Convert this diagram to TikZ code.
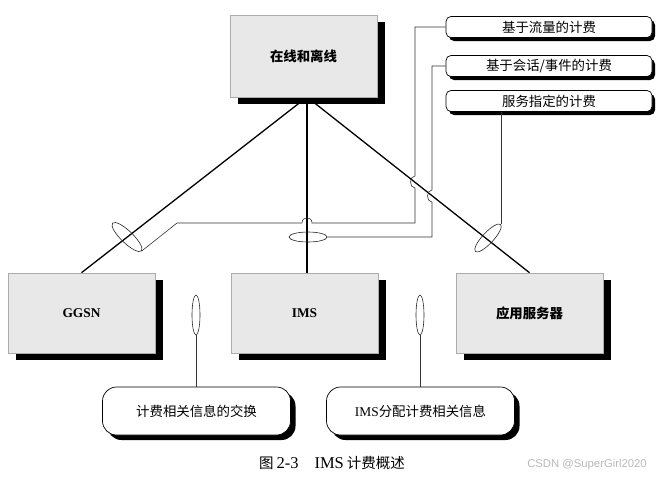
\documentclass[tikz,border=0pt]{standalone}
\usepackage{fontspec}
\setmainfont{Liberation Serif}
\newfontfamily\cjk{Noto Sans CJK SC}
\newfontfamily\wmfont{Liberation Sans}
\usetikzlibrary{shapes.geometric,shadows,backgrounds}
\begin{document}
\begin{tikzpicture}[x=1pt,y=-1pt]
\tikzset{
 unitbox/.style={draw=gray!65, fill=gray!18, line width=0.6pt, minimum width=147pt, minimum height=80pt, inner sep=0pt,
   font=\fontsize{13.4}{16}\selectfont\bfseries,
   drop shadow={shadow xshift=8pt, shadow yshift=-7pt, fill=black, opacity=1}},
 chargebox/.style={draw=black, fill=white, line width=0.7pt, rounded corners=5pt, minimum width=206pt, minimum height=21pt, inner sep=0pt,
   font=\cjk\fontsize{13.4}{16}\selectfont,
   drop shadow={shadow xshift=3pt, shadow yshift=-3.5pt, fill=black, opacity=1}},
 infobox/.style={draw=black, fill=white, line width=0.7pt, rounded corners=14pt, minimum width=188pt, minimum height=48pt, inner sep=0pt,
   font=\fontsize{13.4}{16}\selectfont,
   drop shadow={shadow xshift=5pt, shadow yshift=-5pt, fill=black, opacity=1}},
 trunk/.style={line width=1.3pt, black},
 link/.style={line width=0.6pt, black!80},
 tag/.style={ellipse, draw=black!85, line width=0.6pt, inner sep=0pt},
}
\useasboundingbox (0,0) rectangle (662,485);

% unit boxes
\node[unitbox, minimum height=82pt] (top) at (303.5,56) {\cjk 在线和离线};
\node[unitbox] (ggsn) at (81.5,313) {GGSN};
\node[unitbox] (ims) at (304.5,313) {IMS};
\node[unitbox] (app) at (529.5,313) {\cjk 应用服务器};
\coordinate (hub) at (307,97);

\begin{pgfonlayer}{background}
\draw[trunk] (hub) -- (ggsn.north);
\draw[trunk] (hub) -- (hub |- ims.north);
\draw[trunk] (hub) -- (app.north);
\end{pgfonlayer}

% charging type boxes
\node[chargebox] (b1) at (549,27) {基于流量的计费};
\node[chargebox] (b2) at (549,66) {基于会话/事件的计费};
\node[chargebox] (b3) at (549,101) {服务指定的计费};

% info boxes
\node[infobox] (c1) at (196.5,411) {\cjk 计费相关信息的交换};
\node[infobox] (c2) at (420.5,411) {IMS{\cjk 分配计费相关信息}};

% tags on trunks
\node[tag, minimum width=40pt, minimum height=12pt, rotate=-44] (e1) at (127,237) {};
\node[tag, minimum width=38pt, minimum height=10pt] (e2) at (308,237) {};
\node[tag, minimum width=37pt, minimum height=11pt, rotate=47] (e3) at (488,238) {};
\node[tag, minimum width=8pt, minimum height=40pt] (e4) at (196,315) {};
\node[tag, minimum width=8pt, minimum height=40pt] (e5) at (420,315) {};

% links
\draw[link] (e1.east) -- (177,223) -- (302,223)
  .. controls (302,216) and (312,216) .. (312,223) -- (415,223) -- (415,188)
  .. controls (409,188) and (409,176) .. (415,176) |- (b1.west);
\draw[link] (e2.east) -- (432,237) -- (432,202)
  .. controls (426,202) and (426,190) .. (432,190) |- (b2.west);
\draw[link] (e3.east) -- (e3.east |- b3.south);
\draw[link] (e4.south) -- (e4.south |- c1.north);
\draw[link] (e5.south) -- (e5.south |- c2.north);

% caption and watermark
\node (cap) at (332,463) {\fontsize{16.5}{18}\selectfont{\cjk\fontsize{14.5}{18}\selectfont 图}\hspace{3pt}2-3\hspace{16pt}IMS\hspace{3pt}{\cjk\fontsize{14.5}{18}\selectfont 计费概述}};
\node[text=gray!55] (wm) at (587,465) {\wmfont\fontsize{11.3}{13}\selectfont CSDN @SuperGirl2020};
\end{tikzpicture}
\end{document}
